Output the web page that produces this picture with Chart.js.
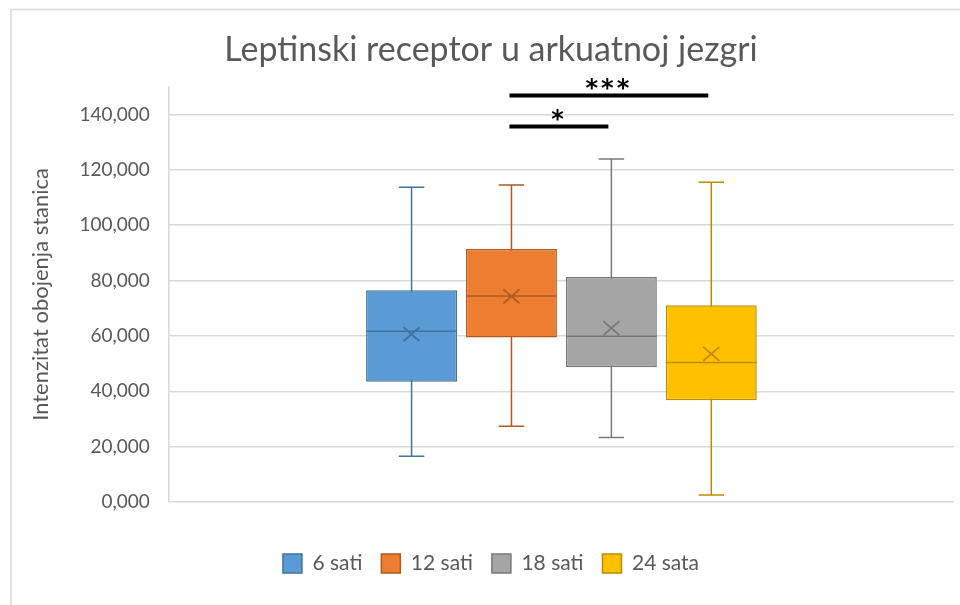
<!DOCTYPE html>
<html>
<head>
<meta charset="utf-8">
<script src="https://cdn.jsdelivr.net/npm/chart.js@4"></script>
<style>
    html, body { margin: 0; padding: 0; background: #fff; }
    #okvir { width: 960px; height: 605px; position: relative; }
</style>
</head>
<body>
<div id="okvir"><canvas id="myChart"></canvas></div>
<script>
// podaci (vrijednosti u tisućama, os prikazuje 3 decimale)
var grupe = ['6 sati', '12 sati', '18 sati', '24 sata'];
var minimumi = [16.5, 27.4, 23.3, 2.5];
var kvartil1 = [43.4, 59.4, 48.7, 36.8];
var medijani = [61.7, 74.4, 59.9, 50.4];
var kvartil3 = [76.5, 91.4, 81.3, 71.1];
var maksimumi = [113.7, 114.5, 123.9, 115.5];
var srednje = [60.6, 74.3, 62.8, 53.5];
var yTicks = [0, 20, 40, 60, 80, 100, 120, 140];

// oznake značajnosti
var znacajnostOd = [1, 1];
var znacajnostDo = [3, 2];
var znacajnostY = [146.9, 135.7];
var znacajnostTekst = ['***', '*'];

var boje = ['#5B9BD5', '#ED7D31', '#A5A5A5', '#FFC000'];
var rubovi = ['#41719C', '#AE5A21', '#787878', '#BC8C00'];
var sivaTekst = '#595959';
var font = 'Lato, "Open Sans", sans-serif';

var datasets = [];
for (var i = 0; i < grupe.length; i++) {
    datasets.push({
        label: grupe[i],
        data: [[kvartil1[i], kvartil3[i]]],
        backgroundColor: boje[i],
        borderColor: rubovi[i],
        borderWidth: 1.5,
        borderSkipped: false,
        categoryPercentage: 0.509,
        barPercentage: 0.91
    });
}

// okvir grafikona (samo gornji i lijevi rub su vidljivi)
const okvirPlugin = {
    id: 'okvir',
    beforeDraw(chart) {
        const ctx = chart.ctx;
        ctx.save();
        ctx.fillStyle = '#fff';
        ctx.fillRect(0, 0, chart.width, chart.height);
        ctx.strokeStyle = '#d9d9d9';
        ctx.lineWidth = 1.5;
        ctx.beginPath();
        ctx.moveTo(11, chart.height);
        ctx.lineTo(11, 9.5);
        ctx.lineTo(chart.width, 9.5);
        ctx.stroke();
        ctx.restore();
    }
};

// brkovi, medijan i srednja vrijednost
const boxPlugin = {
    id: 'boxplot',
    beforeDatasetsDraw(chart) {
        const ctx = chart.ctx;
        const y = chart.scales.y;
        ctx.save();
        ctx.lineWidth = 1.5;
        for (let i = 0; i < grupe.length; i++) {
            const bar = chart.getDatasetMeta(i).data[0];
            const cap = bar.width * 0.14;
            const yMin = y.getPixelForValue(minimumi[i]);
            const yMax = y.getPixelForValue(maksimumi[i]);
            ctx.strokeStyle = rubovi[i];
            ctx.beginPath();
            ctx.moveTo(bar.x, yMin);
            ctx.lineTo(bar.x, yMax);
            ctx.moveTo(bar.x - cap, yMin);
            ctx.lineTo(bar.x + cap, yMin);
            ctx.moveTo(bar.x - cap, yMax);
            ctx.lineTo(bar.x + cap, yMax);
            ctx.stroke();
        }
        ctx.restore();
    },
    afterDatasetsDraw(chart) {
        const ctx = chart.ctx;
        const y = chart.scales.y;
        ctx.save();
        for (let i = 0; i < grupe.length; i++) {
            const bar = chart.getDatasetMeta(i).data[0];
            const half = bar.width / 2;
            const yMed = y.getPixelForValue(medijani[i]);
            const yAvg = y.getPixelForValue(srednje[i]);
            ctx.strokeStyle = rubovi[i];
            ctx.lineWidth = 1.5;
            ctx.beginPath();
            ctx.moveTo(bar.x - half, yMed);
            ctx.lineTo(bar.x + half, yMed);
            ctx.stroke();
            ctx.lineWidth = 1.8;
            ctx.beginPath();
            ctx.moveTo(bar.x - 8, yAvg - 7);
            ctx.lineTo(bar.x + 8, yAvg + 7);
            ctx.moveTo(bar.x + 8, yAvg - 7);
            ctx.lineTo(bar.x - 8, yAvg + 7);
            ctx.stroke();
        }
        // linije značajnosti
        ctx.strokeStyle = '#000';
        ctx.fillStyle = '#000';
        ctx.lineWidth = 4;
        ctx.font = 'bold 24px "DejaVu Sans", sans-serif';
        ctx.textAlign = 'center';
        ctx.textBaseline = 'alphabetic';
        for (let k = 0; k < znacajnostTekst.length; k++) {
            const x1 = chart.getDatasetMeta(znacajnostOd[k]).data[0].x - 2;
            const x2 = chart.getDatasetMeta(znacajnostDo[k]).data[0].x - 3;
            const yy = y.getPixelForValue(znacajnostY[k]);
            ctx.beginPath();
            ctx.moveTo(x1, yy);
            ctx.lineTo(x2, yy);
            ctx.stroke();
            ctx.letterSpacing = '3px';
            ctx.fillText(znacajnostTekst[k], (x1 + x2) / 2, yy + 1);
        }
        ctx.restore();
    }
};

const config = {
    type: 'bar',
    data: {
        labels: [''],
        datasets: datasets
    },
    options: {
        responsive: true,
        maintainAspectRatio: false,
        animation: false,
        layout: {
            padding: { left: 28, right: 6, top: 0, bottom: 21 }
        },
        scales: {
            x: {
                display: true,
                ticks: { display: false },
                grid: { display: false },
                border: { display: false },
                afterFit: function (axis) { axis.height = 32; }
            },
            y: {
                min: 0,
                max: 150,
                afterBuildTicks: function (axis) {
                    axis.ticks = yTicks.map(function (v) { return { value: v }; });
                },
                ticks: {
                    color: sivaTekst,
                    font: { family: font, size: 19 },
                    padding: 19,
                    callback: function (v) { return v.toFixed(3).replace('.', ','); }
                },
                grid: {
                    color: '#d9d9d9',
                    lineWidth: 1.5,
                    drawTicks: false
                },
                border: {
                    color: '#d9d9d9',
                    width: 1.5
                },
                title: {
                    display: true,
                    text: 'Intenzitat obojenja stanica',
                    color: sivaTekst,
                    font: { family: font, size: 22 },
                    padding: { top: 0, bottom: 6 }
                }
            }
        },
        plugins: {
            title: {
                display: true,
                text: 'Leptinski receptor u arkuatnoj jezgri',
                color: sivaTekst,
                font: { family: font, size: 34, weight: 'normal' },
                padding: { top: 30, bottom: 16 }
            },
            legend: {
                position: 'bottom',
                labels: {
                    color: sivaTekst,
                    font: { family: font, size: 21 },
                    boxWidth: 19,
                    boxHeight: 19,
                    padding: 19
                }
            },
            tooltip: { enabled: false }
        }
    },
    plugins: [okvirPlugin, boxPlugin]
};

let myChart = new Chart(document.getElementById('myChart'), config);
</script>
</body>
</html>
